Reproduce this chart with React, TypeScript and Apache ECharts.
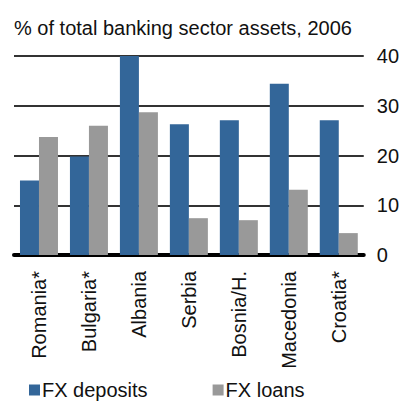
import React, { useEffect, useRef } from "react";
import * as echarts from "echarts";

const categories = ["Romania*", "Bulgaria*", "Albania", "Serbia", "Bosnia/H.", "Macedonia", "Croatia*"];
const fxDeposits = [15, 19.8, 40, 26.3, 27.1, 34.4, 27.1];
const fxLoans = [23.7, 26, 28.7, 7.4, 7.0, 13.1, 4.4];
const titleText = "% of total banking sector assets, 2006";
const seriesNames = ["FX deposits", "FX loans"];

const FONT = "'Liberation Sans', Arial, sans-serif";

export default function App() {
  const ref = useRef<HTMLDivElement>(null);
  useEffect(() => {
    if (!ref.current) return;
    const chart = echarts.init(ref.current, undefined, { renderer: "svg" });
    chart.setOption({
      animation: false,
      backgroundColor: "#ffffff",
      textStyle: { fontFamily: FONT },
      title: {
        text: titleText,
        left: 9,
        top: 13,
        textStyle: { fontFamily: FONT, fontSize: 20, fontWeight: "normal", color: "#111" },
      },
      legend: {
        left: 29,
        top: 379,
        padding: 0,
        itemWidth: 11,
        itemHeight: 11,
        itemGap: 65,
        icon: "rect",
        textStyle: { fontFamily: FONT, fontSize: 20, lineHeight: 22, color: "#111", padding: [0, 0, 0, -3] },
        data: seriesNames,
      },
      grid: { left: 14, right: 36, top: 56, bottom: 150 },
      xAxis: {
        type: "category",
        data: categories,
        axisLine: { show: true, lineStyle: { color: "#000", width: 4 } },
        axisTick: { show: false },
        axisLabel: {
          rotate: 90,
          margin: 16,
          fontFamily: FONT,
          fontSize: 20,
          color: "#111",
          interval: 0,
        },
      },
      yAxis: {
        type: "value",
        position: "right",
        min: 0,
        max: 40,
        interval: 10,
        axisLine: { show: false },
        axisTick: { show: false },
        axisLabel: { margin: 13, fontFamily: FONT, fontSize: 20, color: "#111" },
        splitLine: { show: true, lineStyle: { color: "#333", width: 2 } },
      },
      series: [
        {
          name: seriesNames[0],
          type: "bar",
          data: fxDeposits,
          barWidth: 19,
          barGap: "0%",
          itemStyle: { color: "#336699" },
        },
        {
          name: seriesNames[1],
          type: "bar",
          data: fxLoans,
          barWidth: 19,
          barGap: "0%",
          itemStyle: { color: "#999999" },
        },
      ],
    });
    return () => chart.dispose();
  }, []);
  return <div ref={ref} style={{ width: 402, height: 405, position: "absolute", left: 0, top: 0 }} />;
}
